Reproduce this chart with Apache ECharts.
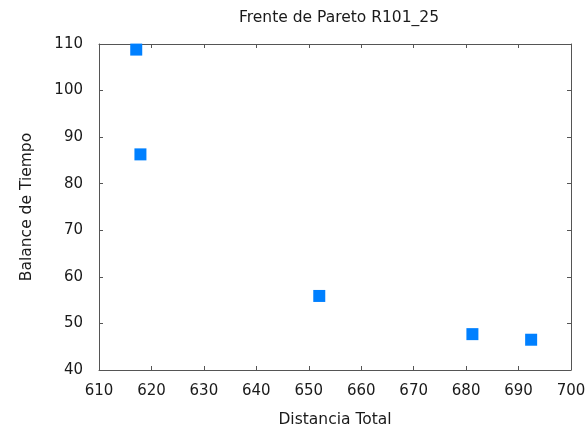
<!DOCTYPE html>
<html>
<head>
<meta charset="utf-8">
<script src="https://cdn.jsdelivr.net/npm/echarts@6/dist/echarts.min.js"></script>
<style>
  html, body { margin: 0; padding: 0; background: #fff; }
  #chart { width: 587px; height: 431px; }
</style>
</head>
<body>
<div id="chart"></div>
<script>
// Pareto front solutions: total distance vs. time balance
const distanciaTotal = [617.1, 617.9, 652.0, 681.2, 692.4];
const balanceTiempo  = [108.8, 86.3, 55.9, 47.7, 46.5];

const xTicks = { min: 610, max: 700, interval: 10 };
const yTicks = { min: 40, max: 110, interval: 10 };

const font = 'DejaVu Sans';
const lineColor = '#555';
const textColor = '#1a1a1a';

const chart = echarts.init(document.getElementById('chart'), null, { renderer: 'canvas' });

// Axis on the opposite side of the frame: line and inward ticks only
function mirrorAxis(pos, ticks) {
  return {
    type: 'value', position: pos,
    min: ticks.min, max: ticks.max, interval: ticks.interval,
    axisLine: { show: true, lineStyle: { color: lineColor, width: 1 } },
    axisTick: { show: true, inside: true, length: 4, lineStyle: { color: lineColor } },
    axisLabel: { show: false },
    splitLine: { show: false }
  };
}

chart.setOption({
  animation: false,
  backgroundColor: '#fff',
  title: {
    text: 'Frente de Pareto R101_25',
    left: 334, top: 5, textAlign: 'center',
    textStyle: { fontFamily: font, fontSize: 15.5, fontWeight: 'normal', color: textColor }
  },
  grid: { left: 99, right: 16, top: 44, bottom: 61, containLabel: false, outerBoundsMode: 'none' },
  xAxis: [
    {
      type: 'value', position: 'bottom',
      min: xTicks.min, max: xTicks.max, interval: xTicks.interval,
      name: 'Distancia Total', nameLocation: 'middle', nameGap: 42,
      nameTextStyle: { fontFamily: font, fontSize: 15.5, color: textColor },
      axisLine: { show: true, lineStyle: { color: lineColor, width: 1 } },
      axisTick: { show: true, inside: true, length: 4, lineStyle: { color: lineColor } },
      axisLabel: { fontFamily: font, fontSize: 15, color: textColor, margin: 14 },
      splitLine: { show: false }
    },
    mirrorAxis('top', xTicks)
  ],
  yAxis: [
    {
      type: 'value', position: 'left',
      min: yTicks.min, max: yTicks.max, interval: yTicks.interval,
      name: 'Balance de Tiempo', nameLocation: 'middle', nameGap: 64,
      nameTextStyle: { fontFamily: font, fontSize: 15.5, color: textColor },
      axisLine: { show: true, lineStyle: { color: lineColor, width: 1 } },
      axisTick: { show: true, inside: true, length: 4, lineStyle: { color: lineColor } },
      axisLabel: { fontFamily: font, fontSize: 15, color: textColor, margin: 16 },
      splitLine: { show: false }
    },
    mirrorAxis('right', yTicks)
  ],
  series: [{
    type: 'scatter',
    symbol: 'rect',
    symbolSize: 12,
    itemStyle: { color: '#0080ff', opacity: 1 },
    data: distanciaTotal.map((d, i) => [d, balanceTiempo[i]])
  }]
});
</script>
</body>
</html>
